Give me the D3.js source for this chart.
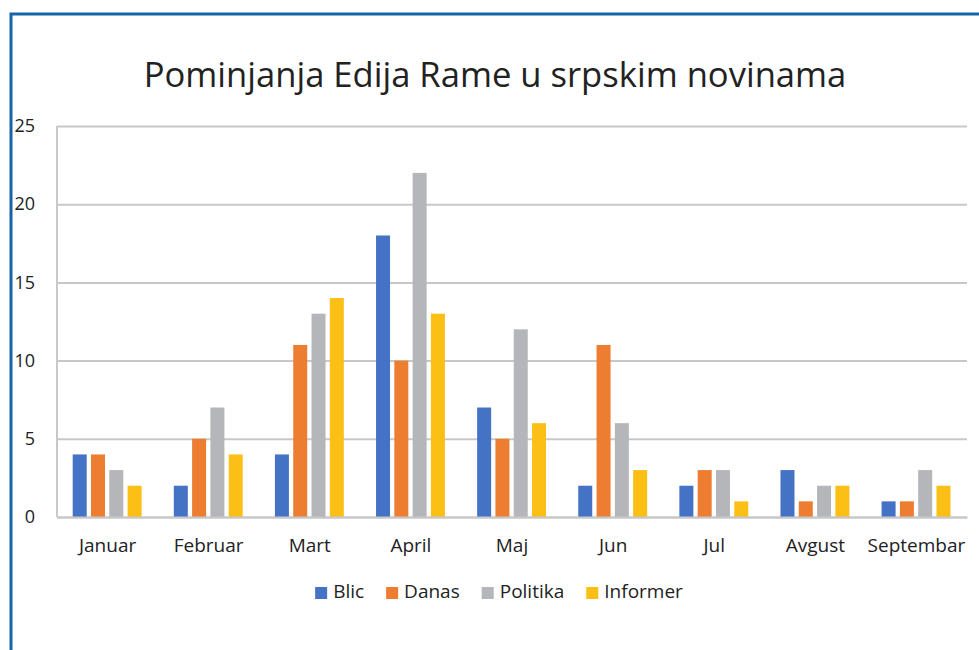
<!DOCTYPE html>
<html>
<head>
<meta charset="utf-8">
<script src="https://cdn.jsdelivr.net/npm/d3@7"></script>
<style>
  body { margin: 0; background: #fff; }
  svg { display: block; font-family: "Open Sans", "Noto Sans", sans-serif; }
</style>
</head>
<body>
<svg id="chart" width="979" height="650"></svg>
<script>
/* global d3 */

const months = ['Januar', 'Februar', 'Mart', 'April', 'Maj', 'Jun', 'Jul', 'Avgust', 'Septembar'];
const seriesNames = ['Blic', 'Danas', 'Politika', 'Informer'];
const blic = [4, 2, 4, 18, 7, 2, 2, 3, 1];
const danas = [4, 5, 11, 10, 5, 11, 3, 1, 1];
const politika = [3, 7, 13, 22, 12, 6, 3, 2, 3];
const informer = [2, 4, 14, 13, 6, 3, 1, 2, 2];
const yTicks = [0, 5, 10, 15, 20, 25];
const colors = ['#4472c4', '#ed7d31', '#b5b6b9', '#fbbf16'];

const seriesValues = [blic, danas, politika, informer];

const svg = d3.select('#chart');

// outer frame (only left and top edges are visible)
svg.append('rect')
  .attr('x', 11).attr('y', 14)
  .attr('width', 1200).attr('height', 1200)
  .attr('fill', 'none')
  .attr('stroke', '#1663a8')
  .attr('stroke-width', 3);

svg.append('text')
  .attr('x', 495).attr('y', 87)
  .attr('text-anchor', 'middle')
  .attr('font-size', 34.6)
  .attr('fill', '#222')
  .text('Pominjanja Edija Rame u srpskim novinama');

const plotLeft = 57;
const plotRight = 967;
const plotTop = 126;
const plotBottom = 517;

const y = d3.scaleLinear().domain([0, 25]).range([plotBottom, plotTop]);
const x0 = d3.scaleBand().domain(months).range([plotLeft, plotRight]);
const x1 = d3.scaleBand().domain(seriesNames).range([15.7, 84.6]).paddingInner(0.235);

// gridlines
const yAxis = d3.axisLeft(y).tickValues(yTicks).tickSize(-(plotRight - plotLeft)).tickPadding(22);
const gy = svg.append('g').attr('transform', `translate(${plotLeft},0)`).call(yAxis);
gy.select('.domain').remove();
gy.selectAll('.tick line').attr('stroke', '#c8c8c8').attr('stroke-width', 2);
gy.selectAll('.tick text').attr('font-size', 18).attr('fill', '#222')
  .attr('font-family', '"Open Sans", sans-serif');

// left vertical axis line
svg.append('line')
  .attr('x1', plotLeft).attr('x2', plotLeft)
  .attr('y1', plotTop).attr('y2', plotBottom)
  .attr('stroke', '#c8c8c8').attr('stroke-width', 2);

// bars
const groups = svg.append('g').selectAll('g')
  .data(months)
  .join('g')
  .attr('transform', (d) => `translate(${x0(d)},0)`);

groups.selectAll('rect')
  .data((d, i) => seriesNames.map((s, j) => ({ s, j, v: seriesValues[j][i] })))
  .join('rect')
  .attr('x', (d) => x1(d.s))
  .attr('width', x1.bandwidth())
  .attr('y', (d) => y(d.v))
  .attr('height', (d) => y(0) - y(d.v))
  .attr('fill', (d) => colors[d.j]);

// x axis
const xAxis = d3.axisBottom(x0).tickSize(0).tickPadding(22);
const gx = svg.append('g').attr('transform', `translate(0,${plotBottom})`).call(xAxis);
gx.select('.domain').attr('stroke', '#c8c8c8').attr('stroke-width', 2);
gx.selectAll('.tick text').attr('font-size', 19).attr('fill', '#222')
  .attr('font-family', '"Open Sans", sans-serif');

// legend
const legend = svg.append('g');
let lx = 0;
seriesNames.forEach((name, i) => {
  const item = legend.append('g').attr('transform', `translate(${lx},0)`);
  item.append('rect')
    .attr('x', 0).attr('y', 587)
    .attr('width', 12).attr('height', 12)
    .attr('fill', colors[i]);
  const t = item.append('text')
    .attr('x', 18).attr('y', 598)
    .attr('font-size', 19)
    .attr('fill', '#222')
    .text(name);
  lx += 18 + t.node().getComputedTextLength() + 22;
});
const legendWidth = lx - 22;
legend.attr('transform', `translate(${499 - legendWidth / 2},0)`);
</script>
</body>
</html>
